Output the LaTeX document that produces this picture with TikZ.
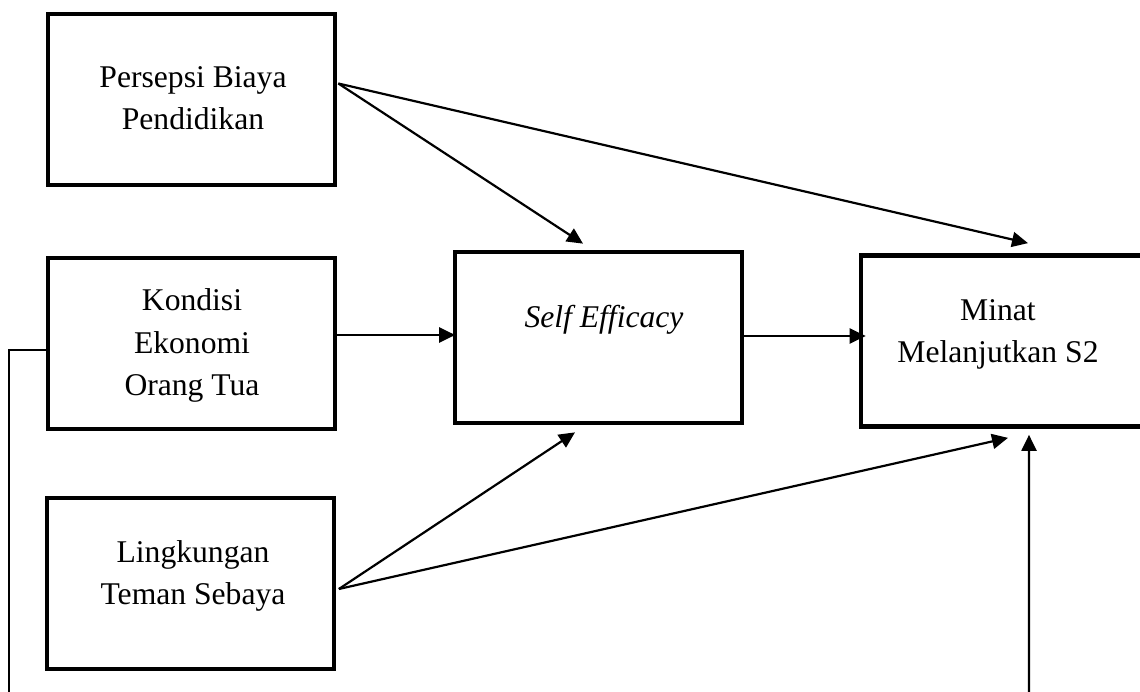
\documentclass[tikz,border=0pt]{standalone}
\usepackage{fontspec}
\setmainfont{Liberation Serif}
\usetikzlibrary{positioning,calc,arrows.meta}

\begin{document}
\begin{tikzpicture}[
        x=0.02cm, y=-0.02cm,
        box/.style={rectangle, draw=black, line width=2.7pt, minimum width=5.74cm, minimum height=3.42cm, inner sep=0pt},
        lbl/.style={align=center, font=\fontsize{18}{24}\selectfont, inner sep=0pt},
        arrow/.style={->, line width=1.25pt},
        link/.style={line width=0.7pt},
        >={Triangle[length=0.32cm, width=0.3cm]}
    ]
    \useasboundingbox (0,0) rectangle (1140,692);
    \clip (0,0) rectangle (1140,692);

    % Variables on the left
    \node[box] (persepsi) at (191.5,99.5) {};
    \node[box] (kondisi) at (191.5,343.5) {};
    \node[box] (lingkungan) at (190.5,583.5) {};
    \node[lbl] (persepsitxt) at (193,98.5) {Persepsi Biaya\\Pendidikan};
    \node[lbl] (kondisitxt) at (192,345.5) {Kondisi\\Ekonomi\\Orang Tua};
    \node[lbl] (lingkungantxt) at (193,576) {Lingkungan\\Teman Sebaya};

    % Mediator and outcome
    \node[box] (se) at (598.5,337.5) {};
    \node[box] (minat) at (1004.5,341) {};
    \node[lbl, font=\fontsize{18}{24}\selectfont\itshape] (setxt) at (604,320) {Self Efficacy};
    \node[lbl] (minattxt) at (998,334) {Minat\\Melanjutkan S2};

    \coordinate (bottomL) at (9,720);
    \coordinate (bottomR) at (1029,720);

    % Paths
    \draw[arrow] ($(persepsi.east)+(1,-16)$) -- ($(se.north)+(-15.5,-6)$);
    \draw[arrow] ($(persepsi.east)+(1,-16)$) -- ($(minat.north)+(23.5,-10)$);
    \draw[arrow] ($(kondisi.east)+(0,-8.5)$) -- ($(se.west)+(2.5,-2.5)$);
    \draw[arrow] ($(se.east)+(0,-1.5)$) -- ($(minat.west)+(7,-5)$);
    \draw[arrow] ($(lingkungan.east)+(2.5,5.5)$) -- ($(se.south)+(-23.5,7)$);
    \draw[arrow] ($(lingkungan.east)+(2.5,5.5)$) -- ($(minat.south)+(3.5,9)$);
    \draw[arrow] (bottomR) -- ($(minat.south)+(24.5,6)$);
    \draw[link] ($(kondisi.west)+(0,6.5)$) -| (bottomL);
\end{tikzpicture}
\end{document}
